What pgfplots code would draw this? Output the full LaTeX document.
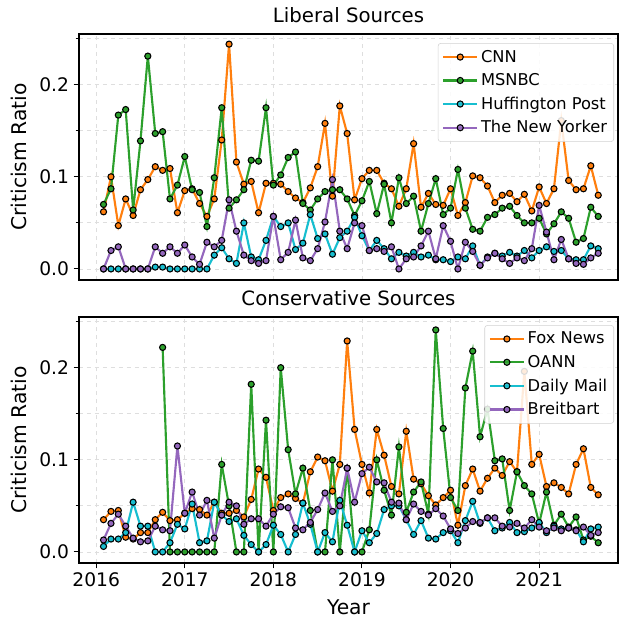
\documentclass[border=0pt]{standalone}
\usepackage{fontspec}
\setmainfont{DejaVu Sans}
\usepackage{pgfplots}
\usepackage{pgfplotstable}
\pgfplotsset{compat=1.18}
\definecolor{tOrange}{HTML}{FF7F0E}
\definecolor{tGreen}{HTML}{2CA02C}
\definecolor{tCyan}{HTML}{17BECF}
\definecolor{tPurple}{HTML}{9467BD}
\pgfplotstableread{
t cnn msnbc huff ny
2016.083 0.062 0.070 0.000 0.000
2016.167 0.100 0.087 0.000 0.020
2016.250 0.047 0.167 0.000 0.024
2016.333 0.076 0.173 0.000 0.000
2016.417 0.058 0.064 0.000 0.000
2016.500 0.086 0.139 0.000 0.000
2016.583 0.097 0.231 0.000 0.000
2016.667 0.111 0.147 0.002 0.024
2016.750 0.107 0.149 0.002 0.017
2016.833 0.109 0.076 0.000 0.024
2016.917 0.061 0.091 0.000 0.017
2017.000 0.085 0.122 0.000 0.026
2017.083 0.087 0.086 0.000 0.013
2017.167 0.071 0.083 0.000 0.005
2017.250 0.057 0.046 0.000 0.029
2017.333 0.076 0.099 0.015 0.024
2017.417 0.140 0.175 0.023 0.031
2017.500 0.244 0.066 0.011 0.075
2017.583 0.116 0.075 0.006 0.041
2017.667 0.092 0.086 0.050 0.015
2017.750 0.095 0.118 0.013 0.009
2017.833 0.061 0.117 0.010 0.006
2017.917 0.093 0.175 0.031 0.009
2018.000 0.093 0.091 0.057 0.057
2018.083 0.092 0.102 0.046 0.010
2018.167 0.084 0.121 0.050 0.018
2018.250 0.077 0.127 0.021 0.053
2018.333 0.072 0.071 0.028 0.012
2018.417 0.088 0.064 0.059 0.009
2018.500 0.111 0.076 0.033 0.022
2018.583 0.158 0.084 0.038 0.051
2018.667 0.079 0.086 0.016 0.097
2018.750 0.177 0.086 0.034 0.041
2018.833 0.147 0.076 0.041 0.022
2018.917 0.075 0.058 0.056 0.050
2019.000 0.098 0.074 0.036 0.047
2019.083 0.107 0.095 0.020 0.020
2019.167 0.107 0.060 0.031 0.022
2019.250 0.093 0.092 0.022 0.019
2019.333 0.087 0.050 0.011 0.024
2019.417 0.068 0.099 0.018 0.000
2019.500 0.087 0.071 0.014 0.011
2019.583 0.136 0.079 0.018 0.013
2019.667 0.067 0.041 0.013 0.025
2019.750 0.082 0.071 0.015 0.041
2019.833 0.070 0.098 0.010 0.011
2019.917 0.069 0.059 0.010 0.047
2020.000 0.087 0.066 0.008 0.030
2020.083 0.058 0.108 0.013 0.000
2020.167 0.072 0.066 0.011 0.029
2020.250 0.101 0.043 0.025 0.019
2020.333 0.099 0.041 0.004 0.004
2020.417 0.090 0.056 0.013 0.012
2020.500 0.072 0.059 0.017 0.017
2020.583 0.080 0.066 0.014 0.011
2020.667 0.082 0.068 0.018 0.006
2020.750 0.073 0.058 0.014 0.012
2020.833 0.081 0.050 0.020 0.009
2020.917 0.063 0.050 0.012 0.022
2021.000 0.089 0.055 0.020 0.069
2021.083 0.071 0.038 0.024 0.040
2021.167 0.087 0.049 0.019 0.010
2021.250 0.161 0.062 0.020 0.032
2021.333 0.096 0.055 0.011 0.011
2021.417 0.086 0.029 0.010 0.006
2021.500 0.087 0.033 0.010 0.005
2021.583 0.112 0.067 0.025 0.012
2021.667 0.080 0.057 0.022 0.017
}\liberal
\pgfplotstableread{
t fox oann dm bb
2016.083 0.035 nan 0.006 0.013
2016.167 0.044 nan 0.014 0.031
2016.250 0.045 nan 0.014 0.041
2016.333 0.016 nan 0.021 0.028
2016.417 0.014 nan 0.054 0.015
2016.500 0.021 nan 0.028 0.011
2016.583 0.021 nan 0.028 0.012
2016.667 0.035 nan 0.000 0.028
2016.750 0.043 0.222 0.000 0.024
2016.833 0.034 0.000 0.010 0.023
2016.917 0.035 0.000 0.030 0.115
2017.000 0.042 0.000 0.025 0.042
2017.083 0.047 0.000 0.052 0.065
2017.167 0.046 0.000 0.010 0.040
2017.250 0.040 0.000 0.012 0.056
2017.333 0.054 0.000 0.054 0.015
2017.417 0.042 0.095 0.040 0.040
2017.500 0.042 0.050 0.033 0.054
2017.583 0.045 0.000 0.036 0.050
2017.667 0.038 0.000 0.018 0.030
2017.750 0.057 0.182 0.008 0.036
2017.833 0.090 0.000 0.000 0.036
2017.917 0.081 0.143 0.008 0.028
2018.000 0.045 0.000 0.029 0.041
2018.083 0.059 0.200 0.019 0.049
2018.167 0.063 0.111 0.000 0.048
2018.250 0.058 0.063 0.019 0.026
2018.333 0.053 0.091 0.053 0.024
2018.417 0.087 0.045 0.030 0.032
2018.500 0.103 0.000 0.000 0.046
2018.583 0.099 0.000 0.021 0.064
2018.667 0.066 0.100 0.011 0.044
2018.750 0.095 0.000 0.056 0.050
2018.833 0.229 0.091 0.029 0.091
2018.917 0.133 0.000 0.000 0.054
2019.000 0.095 0.000 0.023 0.085
2019.083 0.064 0.024 0.010 0.092
2019.167 0.133 0.100 0.020 0.076
2019.250 0.105 0.067 0.046 0.075
2019.333 0.071 0.040 0.050 0.054
2019.417 0.063 0.114 0.050 0.053
2019.500 0.131 0.043 0.035 0.035
2019.583 0.079 0.065 0.019 0.052
2019.667 0.074 0.076 0.034 0.044
2019.750 0.061 0.041 0.015 0.040
2019.833 0.051 0.241 0.014 0.047
2019.917 0.059 0.134 0.021 0.039
2020.000 0.067 0.059 0.023 0.025
2020.083 0.029 0.045 0.010 0.020
2020.167 0.072 0.178 0.034 0.026
2020.250 0.090 0.218 0.055 0.033
2020.333 0.066 0.125 0.031 0.032
2020.417 0.080 0.155 0.037 0.037
2020.500 0.091 0.099 0.023 0.037
2020.583 0.083 0.101 0.026 0.028
2020.667 0.098 0.045 0.032 0.027
2020.750 0.087 0.087 0.021 0.031
2020.833 0.196 0.072 0.022 0.026
2020.917 0.095 0.063 0.026 0.035
2021.000 0.106 0.031 0.032 0.027
2021.083 0.071 0.065 0.021 0.023
2021.167 0.075 0.029 0.028 0.026
2021.250 0.070 0.041 0.025 0.023
2021.333 0.063 0.027 0.026 0.026
2021.417 0.095 0.038 0.024 0.023
2021.500 0.112 0.013 0.011 0.027
2021.583 0.070 0.017 0.025 0.018
2021.667 0.062 0.010 0.027 0.021
}\conservative
\pgfplotsset{
  panel/.style={
    scale only axis, width=404.25pt, height=184.5pt,
    xmin=2015.806, xmax=2021.89, ymin=-0.012, ymax=0.255,
    xtick={2016,2017,2018,2019,2020,2021},
    ytick={0,0.1,0.2}, minor ytick={0.05,0.15,0.25},
    xtick pos=bottom, ytick pos=left,
    tick align=outside,
    major tick length=4pt, minor tick length=2.5pt,
    every tick/.style={black, line width=0.8pt},
    xmajorgrids, ymajorgrids, yminorgrids,
    grid style={dashed, black!13, line width=0.6pt},
    minor grid style={dashed, black!13, line width=0.6pt},
    axis line style={line width=1.7pt},
    unbounded coords=jump,
    /pgf/number format/assume math mode=true,
    yticklabel style={/pgf/number format/fixed, /pgf/number format/fixed zerofill, /pgf/number format/precision=1},
    xticklabel style={/pgf/number format/1000 sep={}},
    tick label style={font=\fontsize{14}{16}\selectfont},
    label style={font=\fontsize{15.2}{18}\selectfont},
    title style={font=\fontsize{14.8}{17}\selectfont, at={(0.5,1)}, anchor=base, yshift=2.3pt},
    ylabel style={at={(axis description cs:-0.112,0.5)}, anchor=center},
    ylabel={Criticism Ratio},
    legend style={anchor=north east, draw=black!18, rounded corners=2pt,
      fill=white, fill opacity=0.85, text opacity=1, draw opacity=1,
      font=\fontsize{12.2}{14.4}\selectfont, row sep=3pt, inner xsep=3pt, inner ysep=3pt,
      cells={anchor=west}},
    legend image code/.code={\draw[mark repeat=2,mark phase=2] plot coordinates {(0cm,0cm) (0.45cm,0cm) (0.9cm,0cm)};},
  },
  ser/.style={color=#1, line width=1.6pt, mark=*, mark size=2.3pt,
    mark options={draw=black, fill=#1, line width=0.8pt, solid}},
}
\begin{document}
\begin{tikzpicture}
\useasboundingbox (-59.25pt,-44.25pt) rectangle (406.5pt,422.25pt);
\begin{axis}[panel, at={(0pt,212.25pt)}, anchor=south west,
  xticklabels={}, major x tick style={draw=none}, title={Liberal Sources},
  legend style={at={(0.9926,0.963)}}]
\addplot[ser=tOrange] table[x=t,y=cnn]{\liberal};
\addlegendentry{CNN}
\addplot[ser=tGreen] table[x=t,y=msnbc]{\liberal};
\addlegendentry{MSNBC}
\addplot[ser=tCyan] table[x=t,y=huff]{\liberal};
\addlegendentry{Huffington Post}
\addplot[ser=tPurple] table[x=t,y=ny]{\liberal};
\addlegendentry{The New Yorker}
\end{axis}
\begin{axis}[panel, at={(0pt,0pt)}, anchor=south west,
  title={Conservative Sources},
  xlabel={Year},
  xlabel style={at={(axis description cs:0.5,-0.179)}, anchor=center},
  legend style={at={(0.9926,0.967)}}]
\addplot[ser=tOrange] table[x=t,y=fox]{\conservative};
\addlegendentry{Fox News}
\addplot[ser=tGreen] table[x=t,y=oann]{\conservative};
\addlegendentry{OANN}
\addplot[ser=tCyan] table[x=t,y=dm]{\conservative};
\addlegendentry{Daily Mail}
\addplot[ser=tPurple] table[x=t,y=bb]{\conservative};
\addlegendentry{Breitbart}
\end{axis}
\end{tikzpicture}
\end{document}
